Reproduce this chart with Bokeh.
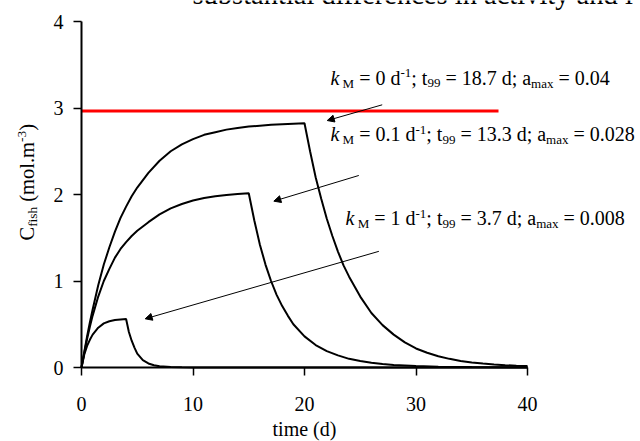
from math import pi
from bokeh.plotting import figure
from bokeh.models import Range1d, Label, Arrow, NormalHead, FixedTicker
from bokeh.embed import file_html
from bokeh.resources import INLINE

# ---------------- data ----------------
t_km0 = [0, 0.25, 0.5, 0.75, 1, 1.5, 2, 2.5, 3, 3.5, 4, 4.5, 5, 6, 7, 8, 9, 10, 11, 12,
         13, 14, 15, 16, 17, 18, 19, 20, 20.5, 21, 21.5, 22, 22.5, 23, 23.5, 24, 25, 26,
         27, 28, 29, 30, 31, 32, 33, 34, 35, 36, 37, 38, 39, 40]
c_km0 = [0, 0.18, 0.36, 0.52, 0.67, 0.95, 1.19, 1.39, 1.57, 1.73, 1.86, 1.98, 2.08, 2.25,
         2.39, 2.50, 2.58, 2.64, 2.69, 2.72, 2.75, 2.77, 2.785, 2.795, 2.805, 2.812, 2.818,
         2.824, 2.50, 2.20, 1.95, 1.72, 1.52, 1.34, 1.18, 1.05, 0.82, 0.63, 0.49, 0.38,
         0.29, 0.22, 0.17, 0.13, 0.10, 0.075, 0.058, 0.045, 0.035, 0.027, 0.021, 0.016]

t_km01 = [0, 0.25, 0.5, 0.75, 1, 1.5, 2, 2.5, 3, 3.5, 4, 4.5, 5, 6, 7, 8, 9, 10, 11, 12,
          13, 14, 15, 15.5, 16, 16.5, 17, 17.5, 18, 18.5, 19, 20, 21, 22, 23, 24, 25, 26,
          27, 28, 30, 32, 35, 40]
c_km01 = [0, 0.17, 0.33, 0.47, 0.60, 0.82, 1.00, 1.14, 1.27, 1.37, 1.45, 1.52, 1.58, 1.68,
          1.77, 1.84, 1.89, 1.93, 1.96, 1.98, 1.995, 2.005, 2.015, 1.70, 1.42, 1.19, 1.00,
          0.84, 0.71, 0.60, 0.50, 0.36, 0.26, 0.19, 0.14, 0.10, 0.075, 0.055, 0.04, 0.03,
          0.017, 0.01, 0.005, 0.002]

t_km1 = [0, 0.25, 0.5, 0.75, 1, 1.5, 2, 2.5, 3, 3.5, 4, 4.25, 4.5, 4.75, 5, 5.5, 6, 6.5,
         7, 8, 9, 10, 20, 40]
c_km1 = [0, 0.15, 0.25, 0.32, 0.38, 0.46, 0.51, 0.535, 0.548, 0.555, 0.56, 0.41, 0.31,
         0.23, 0.16, 0.085, 0.047, 0.026, 0.014, 0.005, 0.002, 0.001, 0, 0]

red_x = [0, 37.4]
red_y = [2.965, 2.965]

x_ticks = [0, 10, 20, 30, 40]
y_ticks = [0, 1, 2, 3, 4]

# annotation pieces: (text, kind)  kind: n normal, it italic, sub, sup
ann_km0 = [("k", "it"), (" M", "sub"), (" = 0 d", "n"), ("-1", "sup"), ("; t", "n"), ("99", "sub"),
           (" = 18.7 d; a", "n"), ("max", "sub"), (" = 0.04", "n")]
ann_km01 = [("k", "it"), (" M", "sub"), (" = 0.1 d", "n"), ("-1", "sup"), ("; t", "n"), ("99", "sub"),
            (" = 13.3 d; a", "n"), ("max", "sub"), (" = 0.028", "n")]
ann_km1 = [("k", "it"), (" M", "sub"), (" = 1 d", "n"), ("-1", "sup"), ("; t", "n"), ("99", "sub"),
           (" = 3.7 d; a", "n"), ("max", "sub"), (" = 0.008", "n")]
ylab = [("C", "n"), ("fish", "sub"), (" (mol.m", "n"), ("-3", "sup"), (")", "n")]
xlab = "time (d)"
title_txt = "substantial differences in activity and i"

# arrows (data coordinates): start -> end
arrows = [((26.97, 3.037), (22.04, 2.855)),
          ((24.87, 2.220), (17.25, 1.923)),
          ((26.67, 1.343), (5.71, 0.563))]

# ---------------- layout ----------------
FONT = "Liberation Serif"
PXX = 11.15   # px per x unit
PXY = 86.5    # px per y unit
W, H = 640, 441
OX, OY = 81, 367   # canvas position of the data origin
BL = 0.38          # Bokeh draws "alphabetic" text this many em lower than the anchor

# the frame covers the whole canvas; the axes are drawn at x=0 / y=0
p = figure(width=W, height=H, output_backend="svg", toolbar_location=None,
           x_range=Range1d(-OX / PXX, (W - OX) / PXX),
           y_range=Range1d(-(H - OY) / PXY, OY / PXY),
           min_border=0, min_border_left=0, min_border_right=0,
           min_border_top=0, min_border_bottom=0)
p.outline_line_color = None
p.grid.visible = False
p.background_fill_color = "white"
p.border_fill_color = "white"

for ax, ticks in ((p.xaxis, x_ticks), (p.yaxis, y_ticks)):
    ax.ticker = FixedTicker(ticks=ticks)
    ax.bounds = (ticks[0], ticks[-1])
    ax.fixed_location = 0
    ax.axis_line_width = 2
    ax.axis_line_color = "black"
    ax.major_tick_line_width = 1.5
    ax.major_tick_line_color = "black"
    ax.major_tick_out = 8
    ax.major_tick_in = 0
    ax.minor_tick_out = 0
    ax.minor_tick_in = 0
    ax.major_label_text_font = FONT
    ax.major_label_text_font_size = "20px"
    ax.major_label_text_color = "black"
p.xaxis.major_label_standoff = 21
p.yaxis.major_label_standoff = 10

# curves
for tx, cy in ((t_km0, c_km0), (t_km01, c_km01), (t_km1, c_km1)):
    p.line(tx, cy, line_color="black", line_width=2)
p.line(red_x, red_y, line_color="#ff0000", line_width=3)

for (x0, y0), (x1, y1) in arrows:
    p.add_layout(Arrow(x_start=x0, y_start=y0, x_end=x1, y_end=y1, line_width=1,
                       line_color="black",
                       end=NormalHead(size=7, fill_color="black", line_color="black", line_width=1)))

# Times / Liberation Serif advance widths (per 1000 em)
ADV = {' ': 250, '.': 250, ';': 278, '=': 564, '-': 333, '(': 333, ')': 333,
       'a': 444, 'd': 500, 'k': 444, 'M': 889, 't': 278, 'm': 778, 'x': 500, 'C': 667,
       'f': 333, 'i': 278, 's': 389, 'h': 500, 'o': 500, 'l': 278, 'e': 444}


def tw(s, size):
    return sum(ADV.get(ch, 500) for ch in s) / 1000.0 * size


def piece_size(kind, size):
    return size * 0.65 if kind in ("sub", "sup") else size


def label_h(text, x, y, size, align="left", style="normal"):
    # y is the wanted visual baseline (data units)
    p.add_layout(Label(x=x, y=y + BL * size / PXY, text=text, text_font=FONT,
                       text_font_size=f"{size:.1f}px", text_font_style=style,
                       text_color="black", text_align=align, text_baseline="alphabetic"))


def rich_h(pieces, x, y, size):
    off = 0.0
    for txt, kind in pieces:
        s = piece_size(kind, size)
        lead = len(txt) - len(txt.lstrip())
        dy = {"sub": -0.14 * size, "sup": 0.36 * size}.get(kind, 0.0)
        p.add_layout(Label(x=x, y=y + (dy + BL * s) / PXY, x_offset=off + tw(txt[:lead], s),
                           text=txt.strip(), text_font=FONT, text_font_size=f"{s:.1f}px",
                           text_font_style="italic" if kind == "it" else "normal",
                           text_color="black", text_align="left", text_baseline="alphabetic"))
        off += tw(txt, s)


def rich_v(pieces, x, y, size):
    # vertical text reading bottom to top; glyph bottoms face +x
    off = 0.0
    for txt, kind in pieces:
        s = piece_size(kind, size)
        lead = len(txt) - len(txt.lstrip())
        dx = {"sub": 0.14 * size, "sup": -0.36 * size}.get(kind, 0.0)
        p.add_layout(Label(x=x, y=y + (off + tw(txt[:lead], s)) / PXY, x_offset=dx - BL * s,
                           angle=pi / 2, text=txt.strip(), text_font=FONT,
                           text_font_size=f"{s:.1f}px", text_color="black",
                           text_align="left", text_baseline="alphabetic"))
        off += tw(txt, s)


rich_h(ann_km0, 22.33, 3.260, 20)
rich_h(ann_km01, 22.33, 2.607, 20)
rich_h(ann_km1, 23.68, 1.636, 20)
rich_v(ylab, -4.215, 1.468, 20.5)

label_h(xlab, 20, -0.798, 20, align="center")
label_h(title_txt, 9.955, 4.185, 28.5)

open("out.html", "w").write(file_html(p, INLINE))
